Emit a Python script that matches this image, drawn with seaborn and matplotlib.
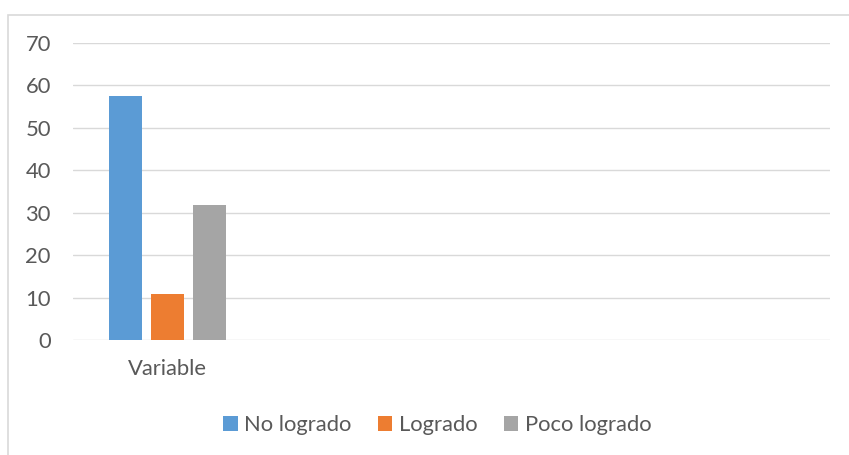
import matplotlib

matplotlib.use("Agg")
import matplotlib.pyplot as plt
import pandas as pd
import seaborn as sns
from matplotlib.patches import Rectangle

categorias = ["Variable"]
series = ["No logrado", "Logrado", "Poco logrado"]
valores = [57.4, 10.8, 31.8]
colores = ["#5B9BD5", "#ED7D31", "#A5A5A5"]
y_ticks = [0, 10, 20, 30, 40, 50, 60, 70]

TEXT = "#595959"
GRID = "#D9D9D9"

df = pd.DataFrame(
    {
        "categoria": categorias * len(series),
        "serie": series,
        "valor": valores,
    }
)

sns.set_theme(style="white")
plt.rcParams["font.family"] = ["Lato", "DejaVu Sans"]

fig = plt.figure(figsize=(8.49, 4.55), dpi=100)
ax = fig.add_axes([0.086, 0.2527, 0.8916, 0.6527])

sns.barplot(
    data=df,
    x="categoria",
    y="valor",
    hue="serie",
    hue_order=series,
    palette=colores,
    width=0.667,
    gap=0.214,
    errorbar=None,
    saturation=1,
    linewidth=0,
    ax=ax,
)

# the chart reserves room for four categories, only the first one has data
ax.set_xlim(-0.5, 3.5)
ax.set_ylim(0, 70)
ax.set_yticks(y_ticks)
ax.set_xlabel("")
ax.set_ylabel("")
ax.grid(axis="y", color=GRID, linewidth=1.0)
ax.set_axisbelow(True)
for spine in ax.spines.values():
    spine.set_visible(False)
ax.tick_params(axis="y", length=0, pad=16, labelsize=15.8, labelcolor=TEXT)
ax.tick_params(axis="x", length=0, pad=14, labelsize=15.8, labelcolor=TEXT)

handles, labels = ax.get_legend_handles_labels()
ax.get_legend().remove()
fig.legend(
    handles,
    labels,
    loc="center",
    bbox_to_anchor=(0.515, 0.066),
    ncol=3,
    frameon=False,
    fontsize=15.8,
    labelcolor=TEXT,
    handlelength=0.65,
    handleheight=0.65,
    handletextpad=0.3,
    columnspacing=1.2,
)

# chart area border, cut off on the right and bottom as in the source
fig.patches.append(
    Rectangle(
        (8 / 849, -0.05),
        1.1,
        1.05 - 15 / 455,
        transform=fig.transFigure,
        fill=False,
        edgecolor=GRID,
        linewidth=1.2,
        clip_on=False,
    )
)

fig.savefig("out.png", dpi=100)
plt.close(fig)
